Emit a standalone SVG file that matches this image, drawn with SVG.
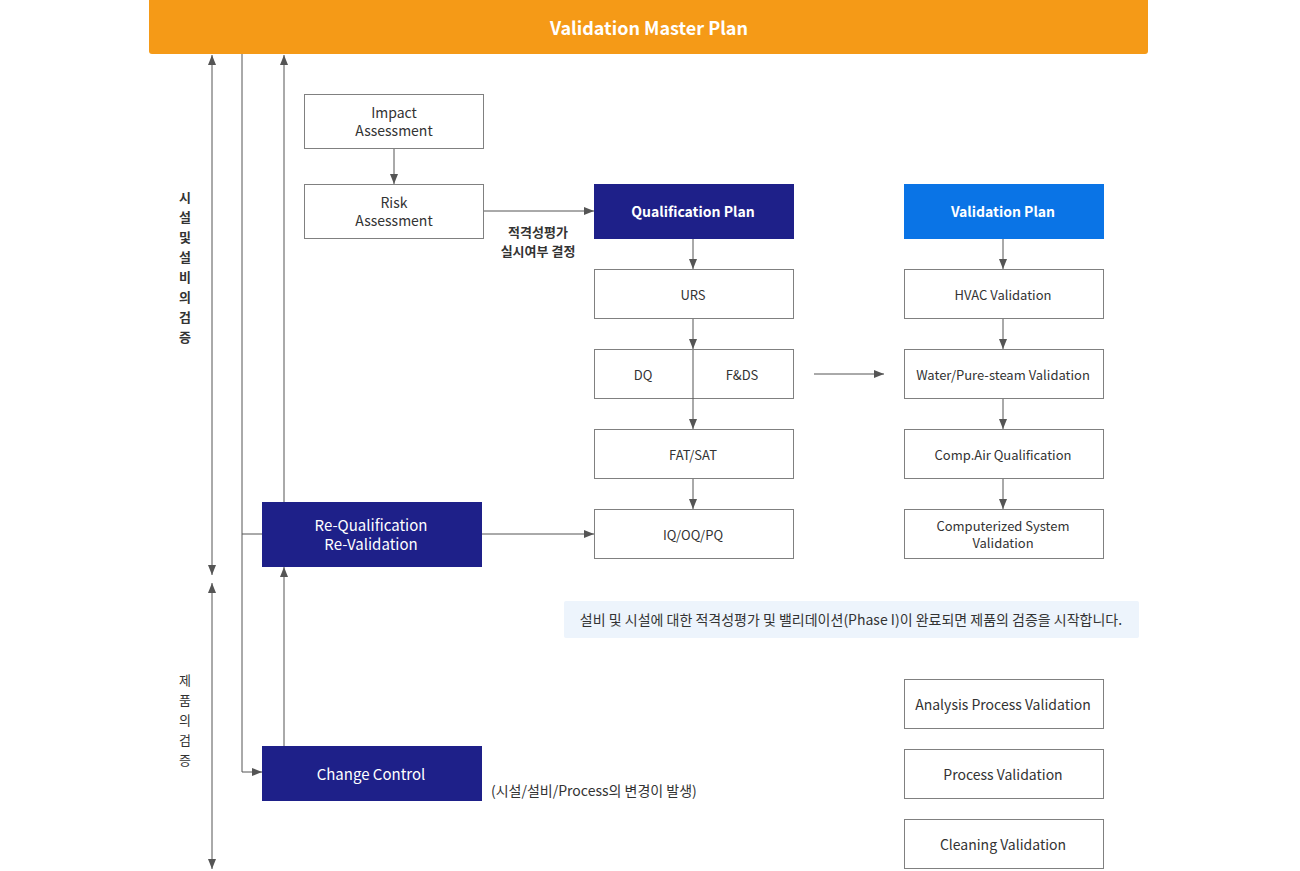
<svg xmlns="http://www.w3.org/2000/svg" width="1300" height="871" viewBox="0 0 1300 871">
<defs>
<marker id="ah" viewBox="0 0 10 10" refX="10" refY="5" markerWidth="10" markerHeight="10" markerUnits="userSpaceOnUse" orient="auto-start-reverse">
<path d="M0,1 L10,5 L0,9 z" fill="#555"/>
</marker>
<style>
text{font-family:"Noto Sans CJK KR","Noto Sans",sans-serif;text-anchor:middle;dominant-baseline:central}
.box{fill:#fff;stroke:#808080;stroke-width:1}
.navy{fill:#1E2089}
.blue{fill:#0A74E6}
.t{font-size:13px;fill:#333}
.tw{font-size:15px;fill:#fff}
.tb{font-size:14px;fill:#fff;font-weight:bold}
.ln{stroke:#555;stroke-width:1;fill:none}
.arr{stroke:#555;stroke-width:1;fill:none;marker-end:url(#ah)}
.vl{font-size:13px;fill:#333}
</style>
</defs>
<rect width="1300" height="871" fill="#fff"/>

<g id="vmp">
<path d="M149,0 H1148 V51 Q1148,54 1145,54 H152 Q149,54 149,51 Z" fill="#F59A17"/>
<text x="649" y="27" style="font-size:18px;font-weight:bold;fill:#fff">Validation Master Plan</text>
</g>

<g id="label-facility">
<text class="vl" x="185" y="196" font-weight="bold">시</text>
<text class="vl" x="185" y="216" font-weight="bold">설</text>
<text class="vl" x="185" y="236" font-weight="bold">및</text>
<text class="vl" x="185" y="256" font-weight="bold">설</text>
<text class="vl" x="185" y="276" font-weight="bold">비</text>
<text class="vl" x="185" y="296" font-weight="bold">의</text>
<text class="vl" x="185" y="316" font-weight="bold">검</text>
<text class="vl" x="185" y="336" font-weight="bold">증</text>
</g>
<g id="label-product">
<text class="vl" x="185" y="679">제</text>
<text class="vl" x="185" y="699">품</text>
<text class="vl" x="185" y="719">의</text>
<text class="vl" x="185" y="739">검</text>
<text class="vl" x="185" y="759">증</text>
</g>

<g id="impact">
<rect class="box" x="304.5" y="94.5" width="179" height="54"/>
<text class="t" x="394" y="111.5" style="font-size:14px">Impact</text>
<text class="t" x="394" y="129.5" style="font-size:14px">Assessment</text>
</g>
<g id="risk">
<rect class="box" x="304.5" y="184.5" width="179" height="54"/>
<text class="t" x="394" y="201.5" style="font-size:14px">Risk</text>
<text class="t" x="394" y="219.5" style="font-size:14px">Assessment</text>
</g>
<g id="decision-label">
<text x="538" y="231" style="font-size:13px;font-weight:bold;fill:#333">적격성평가</text>
<text x="538" y="250" style="font-size:13px;font-weight:bold;fill:#333">실시여부 결정</text>
</g>

<g id="qual-plan">
<rect class="navy" x="594" y="184" width="200" height="55"/>
<text class="tb" x="693" y="211">Qualification Plan</text>
</g>
<g id="urs">
<rect class="box" x="594.5" y="269.5" width="199" height="49"/>
<text class="t" x="693" y="294">URS</text>
</g>
<g id="dq">
<rect class="box" x="594.5" y="349.5" width="199" height="49"/>
<text class="t" x="643" y="374">DQ</text>
<text class="t" x="742" y="374">F&amp;DS</text>
</g>
<g id="fatsat">
<rect class="box" x="594.5" y="429.5" width="199" height="49"/>
<text class="t" x="693" y="454">FAT/SAT</text>
</g>
<g id="iqoqpq">
<rect class="box" x="594.5" y="509.5" width="199" height="49"/>
<text class="t" x="693" y="534">IQ/OQ/PQ</text>
</g>

<g id="val-plan">
<rect class="blue" x="904" y="184" width="200" height="55"/>
<text class="tb" x="1003" y="211">Validation Plan</text>
</g>
<g id="hvac">
<rect class="box" x="904.5" y="269.5" width="199" height="49"/>
<text class="t" x="1003" y="294">HVAC Validation</text>
</g>
<g id="water">
<rect class="box" x="904.5" y="349.5" width="199" height="49"/>
<text class="t" x="1003" y="374">Water/Pure-steam Validation</text>
</g>
<g id="compair">
<rect class="box" x="904.5" y="429.5" width="199" height="49"/>
<text class="t" x="1003" y="454">Comp.Air Qualification</text>
</g>
<g id="computerized">
<rect class="box" x="904.5" y="509.5" width="199" height="49"/>
<text class="t" x="1003" y="525.5">Computerized System</text>
<text class="t" x="1003" y="542.5">Validation</text>
</g>

<g id="requal">
<rect class="navy" x="262" y="502" width="220" height="65"/>
<text class="tw" x="371" y="524.5">Re-Qualification</text>
<text class="tw" x="371" y="543.5">Re-Validation</text>
</g>

<g id="note">
<rect x="564" y="601" width="575" height="37" rx="2" fill="#EDF4FC"/>
<text x="851" y="619" style="font-size:14px;fill:#333">설비 및 시설에 대한 적격성평가 및 밸리데이션(Phase I)이 완료되면 제품의 검증을 시작합니다.</text>
</g>

<g id="analysis">
<rect class="box" x="904.5" y="679.5" width="199" height="49"/>
<text class="t" x="1003" y="704" style="font-size:14px">Analysis Process Validation</text>
</g>
<g id="process">
<rect class="box" x="904.5" y="749.5" width="199" height="49"/>
<text class="t" x="1003" y="774" style="font-size:14px">Process Validation</text>
</g>
<g id="cleaning">
<rect class="box" x="904.5" y="819.5" width="199" height="49"/>
<text class="t" x="1003" y="844" style="font-size:14px">Cleaning Validation</text>
</g>

<g id="change">
<rect class="navy" x="262" y="746" width="220" height="55"/>
<text class="tw" x="371" y="773">Change Control</text>
</g>
<g id="change-note">
<text x="491" y="790" style="font-size:14px;fill:#333;text-anchor:start">(시설/설비/Process의 변경이 발생)</text>
</g>

<g id="connectors">
<line class="arr" x1="212" y1="575" x2="212" y2="55" style="marker-start:url(#ah)"/>
<line class="arr" x1="212" y1="583" x2="212" y2="869" style="marker-start:url(#ah)"/>
<polyline class="arr" points="242,54 242,772 262,772"/>
<line class="ln" x1="242" y1="534" x2="262" y2="534"/>
<line class="arr" x1="284" y1="502" x2="284" y2="55"/>
<line class="arr" x1="284" y1="746" x2="284" y2="567"/>
<line class="arr" x1="394" y1="149" x2="394" y2="184"/>
<line class="arr" x1="484" y1="211" x2="594" y2="211"/>
<line class="arr" x1="482" y1="534" x2="594" y2="534"/>
<line class="arr" x1="693" y1="239" x2="693" y2="269"/>
<line class="arr" x1="693" y1="319" x2="693" y2="349"/>
<line class="arr" x1="693" y1="350" x2="693" y2="429"/>
<line class="arr" x1="693" y1="479" x2="693" y2="509"/>
<line class="arr" x1="814" y1="374" x2="884" y2="374"/>
<line class="arr" x1="1003" y1="239" x2="1003" y2="269"/>
<line class="arr" x1="1003" y1="319" x2="1003" y2="349"/>
<line class="arr" x1="1003" y1="399" x2="1003" y2="429"/>
<line class="arr" x1="1003" y1="479" x2="1003" y2="509"/>
</g>
</svg>
